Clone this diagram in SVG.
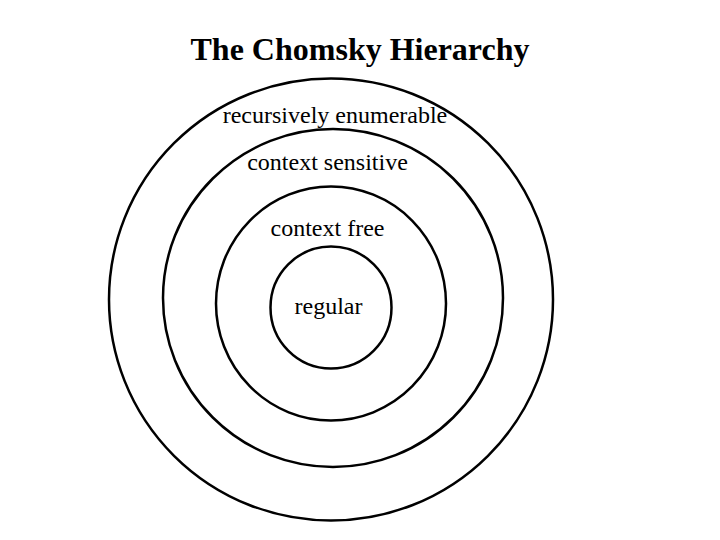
<svg xmlns="http://www.w3.org/2000/svg" width="720" height="540" viewBox="0 0 720 540">
<style>
.ring{fill:none;stroke:#000;stroke-width:2.5}
.lbl{font-family:"Liberation Serif","Times New Roman",serif;font-size:24px;fill:#000;text-anchor:middle}
.title{font-family:"Liberation Serif","Times New Roman",serif;font-size:32px;font-weight:bold;fill:#000;text-anchor:middle}
</style>
<rect width="720" height="540" fill="#fff"/>
<text class="title" x="360" y="60">The Chomsky Hierarchy</text>
<g id="recursively-enumerable">
<ellipse class="ring" cx="331" cy="299.5" rx="222" ry="221"/>
<text class="lbl" x="335" y="123">recursively enumerable</text>
</g>
<g id="context-sensitive">
<ellipse class="ring" cx="333" cy="298" rx="170" ry="169"/>
<text class="lbl" x="327.5" y="170">context sensitive</text>
</g>
<g id="context-free">
<ellipse class="ring" cx="331" cy="303.5" rx="115" ry="117"/>
<text class="lbl" x="327.5" y="236">context free</text>
</g>
<g id="regular">
<ellipse class="ring" cx="331" cy="307.5" rx="60.5" ry="61"/>
<text class="lbl" x="328.5" y="314">regular</text>
</g>
<g id="connectors"></g>
</svg>
